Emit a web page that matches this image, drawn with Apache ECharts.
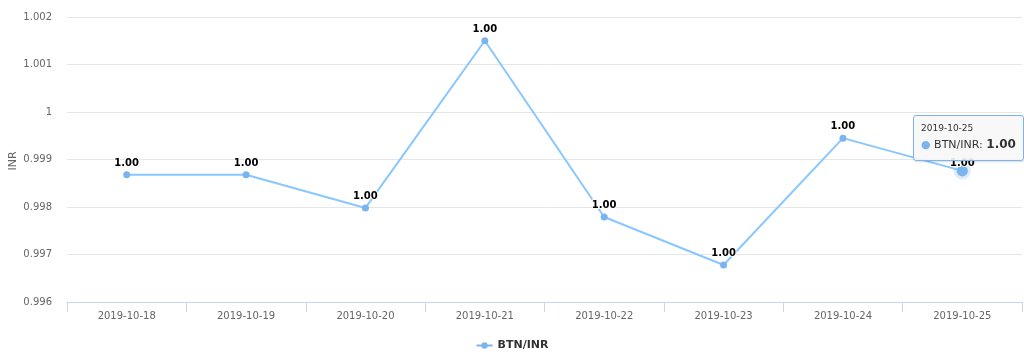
<!DOCTYPE html>
<html>
<head>
<meta charset="utf-8">
<script src="https://cdn.jsdelivr.net/npm/echarts@6/dist/echarts.min.js"></script>
<style>
html,body{margin:0;padding:0;background:#fff;}
#c{width:1024px;height:359px;}
</style>
</head>
<body>
<div id="c"></div>
<script>
const categories = ['2019-10-18','2019-10-19','2019-10-20','2019-10-21','2019-10-22','2019-10-23','2019-10-24','2019-10-25'];
const seriesName = 'BTN/INR';
const yAxisTitle = 'INR';
const values = [0.99868, 0.99868, 0.99798, 1.0015, 0.99779, 0.99678, 0.99945, 0.99876];
const yTicks = [0.996, 0.997, 0.998, 0.999, 1, 1.001, 1.002];

const FONT = 'DejaVu Sans, sans-serif';
const chart = echarts.init(document.getElementById('c'), null, {renderer:'canvas'});
chart.setOption({
  animation: false,
  backgroundColor: '#ffffff',
  grid: {left: 67, right: 2, top: 17, bottom: 57, containLabel: false, outerBoundsMode: 'none'},
  graphic: [{
    type: 'text',
    x: 13,
    y: 161,
    rotation: Math.PI / 2,
    style: {text: yAxisTitle, fontFamily: FONT, fontSize: 11, fill: '#666', textAlign: 'center', textVerticalAlign: 'middle'}
  }],
  tooltip: {
    trigger: 'item',
    alwaysShowContent: true,
    position: [913, 115],
    backgroundColor: 'rgba(247,247,247,0.9)',
    borderColor: '#7cb5ec',
    borderWidth: 1,
    padding: [6, 7],
    extraCssText: 'box-shadow:1px 1px 2px rgba(0,0,0,0.15);border-radius:3px;',
    textStyle: {fontFamily: FONT, fontSize: 12, color: '#333'},
    formatter: function(p){
      return '<div style="font-size:9px;line-height:13px;color:#333">' + categories[p.dataIndex] + '</div>' +
        '<div style="font-size:11px;line-height:18px;color:#333"><span style="color:#7cb5ec">\u25CF</span> ' + p.seriesName + ': <b style="font-size:12px">' + p.value.toFixed(2) + '</b></div>';
    }
  },
  legend: {
    bottom: 3,
    left: 'center',
    data: [seriesName],
    itemWidth: 16,
    itemHeight: 8,
    textStyle: {fontFamily: FONT, fontSize: 11, fontWeight: 'bold', color: '#333'}
  },
  xAxis: {
    type: 'category',
    data: categories,
    boundaryGap: true,
    axisLine: {lineStyle: {color: '#ccd6eb', width: 1}},
    axisTick: {show: true, length: 10, lineStyle: {color: '#ccd6eb'}},
    axisLabel: {fontFamily: FONT, fontSize: 10, color: '#666', margin: 9},
    splitLine: {show: false}
  },
  yAxis: {
    type: 'value',
    min: yTicks[0],
    max: yTicks[yTicks.length - 1],
    interval: 0.001,
    axisLine: {show: false},
    axisTick: {show: false},
    axisLabel: {fontFamily: FONT, fontSize: 10, color: '#666', margin: 15,
      formatter: function(v){ return String(parseFloat(v.toFixed(3))); }},
    splitLine: {lineStyle: {color: '#e6e6e6', width: 1}}
  },
  series: [{
    name: seriesName,
    type: 'line',
    data: values,
    symbol: 'circle',
    symbolSize: 7,
    lineStyle: {color: '#7cb5ec', width: 2},
    itemStyle: {color: '#7cb5ec'},
    label: {
      show: true,
      position: 'top',
      distance: 3,
      fontFamily: FONT,
      fontSize: 10,
      fontWeight: 'bold',
      color: '#000',
      textBorderColor: '#fff',
      textBorderWidth: 2,
      formatter: function(p){ return p.value.toFixed(2); }
    },
    emphasis: {
      scale: 1.6,
      label: {color: '#000', distance: 0, offset: [0, 6]},
      itemStyle: {color: '#7cb5ec', borderColor: 'rgba(124,181,236,0.25)', borderWidth: 6}
    }
  }]
});
chart.dispatchAction({type: 'highlight', seriesIndex: 0, dataIndex: 7});
chart.dispatchAction({type: 'showTip', seriesIndex: 0, dataIndex: 7});
</script>
</body>
</html>
